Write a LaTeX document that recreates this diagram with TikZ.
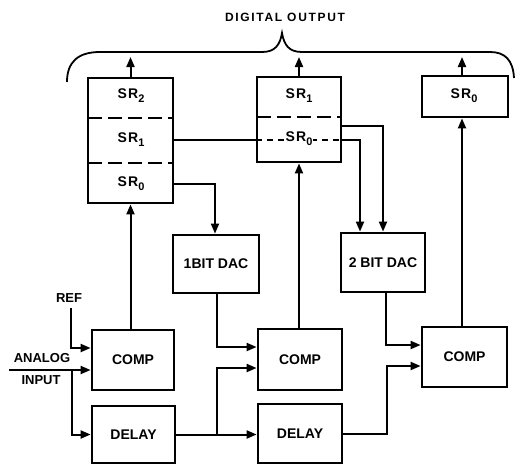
\documentclass[tikz,border=0pt]{standalone}
\usepackage{fontspec}
\setmainfont{Liberation Sans}
\usetikzlibrary{arrows.meta,calc}
\newcommand{\sub}[1]{\raisebox{-4pt}{\fontsize{11}{11}\selectfont #1}}
\begin{document}
\begin{tikzpicture}[x=1pt,y=-1pt,
  blk/.style={draw, line width=2.8pt, inner sep=0pt,
    font=\fontsize{14}{16}\selectfont\bfseries},
  lbl/.style={inner sep=1pt, font=\fontsize{14}{16}\selectfont\bfseries\addfontfeature{LetterSpace=10}},
  txt/.style={inner sep=0pt, font=\fontsize{13}{15}\selectfont\bfseries},
  wire/.style={line width=2pt},
  arr/.style={wire, -{Triangle[length=10pt,width=8pt]}},
  sep/.style={line width=2.8pt, dash pattern=on 14pt off 6pt},
  septhin/.style={line width=1.8pt, dash pattern=on 6pt off 5pt}]
\useasboundingbox (0,0) rectangle (516,466);

% title and brace
\node[inner sep=0pt, font=\fontsize{12}{14}\selectfont\bfseries\addfontfeature{LetterSpace=14}] (title) at (285,17) {DIGITAL OUTPUT};
\draw[line width=1.8pt] (67,82) .. controls (67,62) and (78,52) .. (100,52) -- (262,52)
  .. controls (275,52) and (280,45) .. (282,33)
  .. controls (284,45) and (289,52) .. (302,52) -- (490,52)
  .. controls (505,52) and (513,60) .. (514,78);
\coordinate (o1) at (130.5,57);
\coordinate (o2) at (299,57);
\coordinate (o3) at (462,57);

% shift-register blocks
\node[blk, minimum width=85pt, minimum height=125pt] (srl) at (130.5,140.5) {};
\draw[sep] (88,118) -- (173,118);
\draw[sep] (88,163) -- (173,163);
\node[lbl] (srl2) at (131,96) {SR\sub{2}};
\node[lbl] (srl1) at (131,140) {SR\sub{1}};
\node[lbl] (srl0) at (131,184) {SR\sub{0}};

\node[blk, minimum width=84pt, minimum height=85pt] (srm) at (299,119.5) {};
\draw[sep] (257,117) -- (341,117);
\node[lbl] (srm1) at (299,96) {SR\sub{1}};

\node[blk, minimum width=86pt, minimum height=41pt] (srr) at (465,96.5) {};
\node[lbl] (srr0) at (464,96) {SR\sub{0}};

% DACs
\node[blk, minimum width=86pt, minimum height=58pt] (dac1) at (216,264) {1BIT DAC};
\node[blk, minimum width=84pt, minimum height=59pt] (dac2) at (383,262.5) {2 BIT DAC};

% comparators and delays
\node[blk, minimum width=82pt, minimum height=60pt] (c1) at (133,360) {COMP};
\node[blk, minimum width=84pt, minimum height=61pt] (c2) at (300,359.5) {COMP};
\node[blk, minimum width=85pt, minimum height=60pt] (c3) at (464.5,357) {COMP};
\node[blk, minimum width=83pt, minimum height=57pt] (d1) at (133.5,434.5) {DELAY};
\node[blk, minimum width=84pt, minimum height=59pt] (d2) at (300,433.5) {DELAY};

% input labels
\node[txt] (reflbl) at (69,298) {REF};
\node[txt] (an) at (42,358) {ANALOG};
\node[txt] (inp) at (41,380) {INPUT};
\coordinate (refpt) at (71,308);
\coordinate (ain) at (9,370);
\coordinate (br1) at (72,370);

% outputs to brace
\draw[arr] (srl.north) -- (o1);
\draw[arr] (srm.north) -- (o2);
\draw[arr] (srr.north -| o3) -- (o3);

% comparator outputs up to shift registers
\draw[arr] (srl.south |- c1.north) -- (srl.south);
\draw[arr] (srm.south |- c2.north) -- (srm.south);
\draw[arr] (c3.north -| o3) -- (srr.south -| o3);

% shift register bits to DACs
\draw[arr] (srl.east |- srl0) -| ($(dac1.north)+(-1,0)$);
\draw[wire] (srl.east |- srl1) -- (srm.west |- srl1);
\draw[septhin] (srm.west |- srl1) -- (srm.east |- srl1);
\node[lbl, fill=white, inner sep=0.5pt] (srm0) at (299,139) {SR\sub{0}};
\draw[arr] (srm.east |- srl1) -| ($(dac2.north)+(-23,0)$);
\draw[arr] ($(srm.east)+(0,6.5)$) -| (dac2.north);

% DAC outputs to comparators
\draw[arr] ($(dac1.south)+(1,0)$) |- ($(c2.west)+(0,-12.5)$);
\draw[arr] ($(dac2.south)+(3,0)$) |- ($(c3.west)+(0,-12)$);

% inputs
\draw[arr] (refpt) |- ($(c1.west)+(0,-12)$);
\draw[arr] (ain) -- (ain -| c1.west);
\draw[arr] (br1) |- (d1.west);

% delay chain
\draw[arr] (d1.east) -- (d1.east -| d2.west);
\draw[arr] ($(d1.east -| dac1.south)+(1,0)$) |- ($(c2.west)+(0,8.5)$);
\draw[arr] (d2.east) -| ($(c3.west)+(-34,9)$) -- ($(c3.west)+(0,9)$);
\end{tikzpicture}
\end{document}
